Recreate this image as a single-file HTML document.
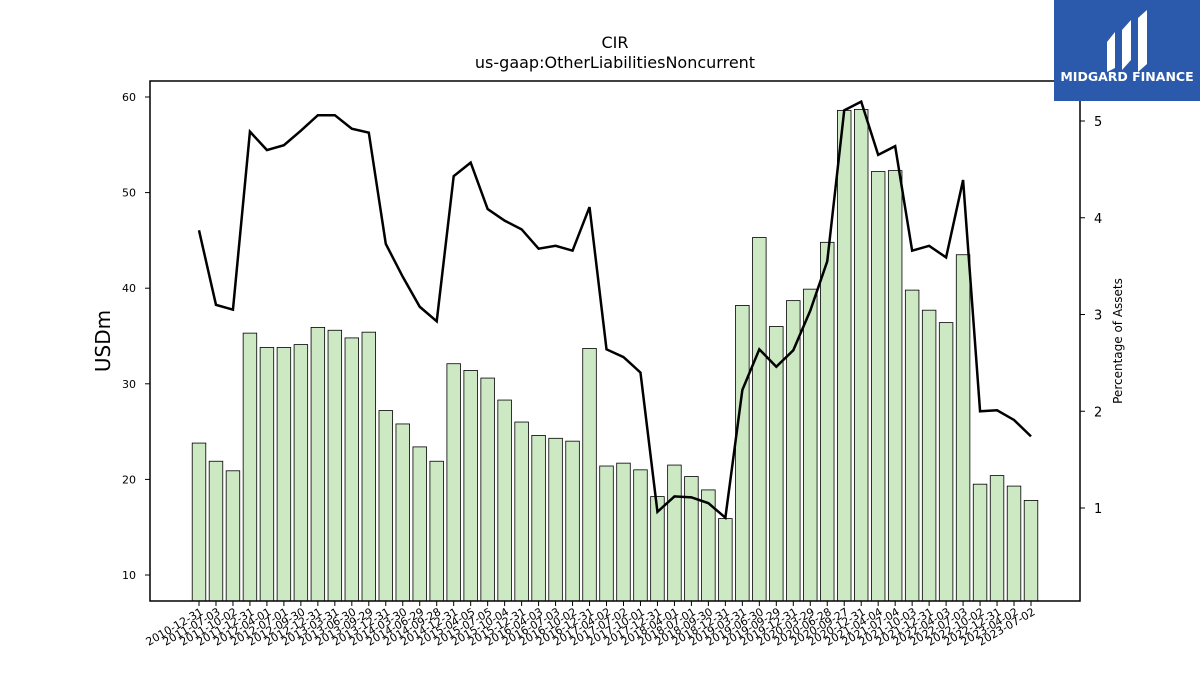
<!DOCTYPE html>
<html><head><meta charset="utf-8"><style>
body{margin:0;background:#fff;font-family:"Liberation Sans","DejaVu Sans",sans-serif;}
svg text{font-family:"DejaVu Sans","Liberation Sans",sans-serif;}
</style></head><body>
<svg id="c" width="1200" height="675" xmlns="http://www.w3.org/2000/svg">
<text x="615" y="48" text-anchor="middle" font-size="16">CIR</text>
<text x="615" y="68" text-anchor="middle" font-size="16">us-gaap:OtherLiabilitiesNoncurrent</text>
<g id="bars"></g>
<g id="xt"></g>
<g id="yl"></g>
<g id="yr"></g>
<path id="line" fill="none" stroke="#000" stroke-width="2.5"/>
<rect x="150" y="81" width="930" height="520" fill="none" stroke="#000" stroke-width="1.5"/>
<text transform="translate(110,341) rotate(-90)" text-anchor="middle" font-size="20">USDm</text>
<text transform="translate(1122,341) rotate(-90)" text-anchor="middle" font-size="12">Percentage of Assets</text>
<g>
<rect x="1054" y="0" width="146" height="101" fill="#2b5aad"/>
<path d="M1107 42 L1115 32 L1115 68 L1107 72 Z" fill="#fff"/>
<path d="M1122 30 L1131 20 L1131 60 L1122 70 Z" fill="#fff"/>
<path d="M1138 18 L1147 10 L1147 64 L1138 72 Z" fill="#fff"/>
<text x="1127" y="81" text-anchor="middle" font-size="12.5" font-weight="bold" fill="#fff">MIDGARD FINANCE</text>
</g>
</svg>
<script>
const dates=["2010-12-31","2011-07-03","2011-10-02","2011-12-31","2012-04-01","2012-07-01","2012-09-30","2012-12-31","2013-03-31","2013-06-30","2013-09-29","2013-12-31","2014-03-30","2014-06-29","2014-09-28","2014-12-31","2015-04-05","2015-07-05","2015-10-04","2015-12-31","2016-04-03","2016-07-03","2016-10-02","2016-12-31","2017-04-02","2017-07-02","2017-10-01","2017-12-31","2018-04-01","2018-07-01","2018-09-30","2018-12-31","2019-03-31","2019-06-30","2019-09-29","2019-12-31","2020-03-29","2020-06-28","2020-09-27","2020-12-31","2021-04-04","2021-07-04","2021-10-03","2021-12-31","2022-04-03","2022-07-03","2022-10-02","2022-12-31","2023-04-02","2023-07-02"];
const usd=[23.8,21.9,20.9,35.3,33.8,33.8,34.1,35.9,35.6,34.8,35.4,27.2,25.8,23.4,21.9,32.1,31.4,30.6,28.3,26.0,24.6,24.3,24.0,33.7,21.4,21.7,21.0,18.2,21.5,20.3,18.9,15.9,38.2,45.3,36.0,38.7,39.9,44.8,58.6,58.7,52.2,52.3,39.8,37.7,36.4,43.5,19.5,20.4,19.3,17.8];
const pct=[3.87,3.10,3.05,4.89,4.70,4.75,4.90,5.06,5.06,4.92,4.88,3.73,3.39,3.08,2.93,4.43,4.57,4.09,3.97,3.88,3.68,3.71,3.66,4.11,2.64,2.56,2.40,0.96,1.12,1.11,1.05,0.90,2.22,2.64,2.46,2.63,3.04,3.55,5.11,5.20,4.65,4.74,3.66,3.71,3.59,4.39,2.00,2.01,1.91,1.74];
const leftTicks=[10,20,30,40,50,60];
const rightTicks=[1,2,3,4,5];
const NS="http://www.w3.org/2000/svg";
const x=i=>199+i*(832/(dates.length-1));
const yL=v=>575-(v-10)*9.56;
const yR=v=>508-(v-1)*96.75;
function mk(t,a,p){const e=document.createElementNS(NS,t);for(const k in a)e.setAttribute(k,a[k]);p.appendChild(e);return e;}
const bw=0.8*832/(dates.length-1);
const bars=document.getElementById('bars'),xt=document.getElementById('xt');
usd.forEach((v,i)=>{
 const r=mk('rect',{x:x(i)-bw/2,y:yL(v),width:bw,height:601-yL(v),fill:'#cce9c4',stroke:'#000','stroke-width':0.8},bars);
 
 
 mk('line',{x1:x(i),x2:x(i),y1:601,y2:606,stroke:'#000'},xt);
 const t=mk('text',{'font-size':11,'text-anchor':'end',transform:`translate(${x(i)+5},${614}) rotate(-30)`},xt);
 t.textContent=dates[i];
 
 
});
const yl=document.getElementById('yl');
leftTicks.forEach(v=>{mk('line',{x1:145,x2:150,y1:yL(v),y2:yL(v),stroke:'#000'},yl);
 const t=mk('text',{x:136,y:yL(v)+4,'font-size':11,'text-anchor':'end'},yl);t.textContent=v;
 
 });
const yr=document.getElementById('yr');
rightTicks.forEach(v=>{mk('line',{x1:1080,x2:1085,y1:yR(v),y2:yR(v),stroke:'#000'},yr);
 const t=mk('text',{x:1094,y:yR(v)+5,'font-size':13},yr);t.textContent=v;
 
 });
document.getElementById('line').setAttribute('d',pct.map((v,i)=>(i?'L':'M')+x(i)+' '+yR(v)).join(' '));
</script>
</body></html>
